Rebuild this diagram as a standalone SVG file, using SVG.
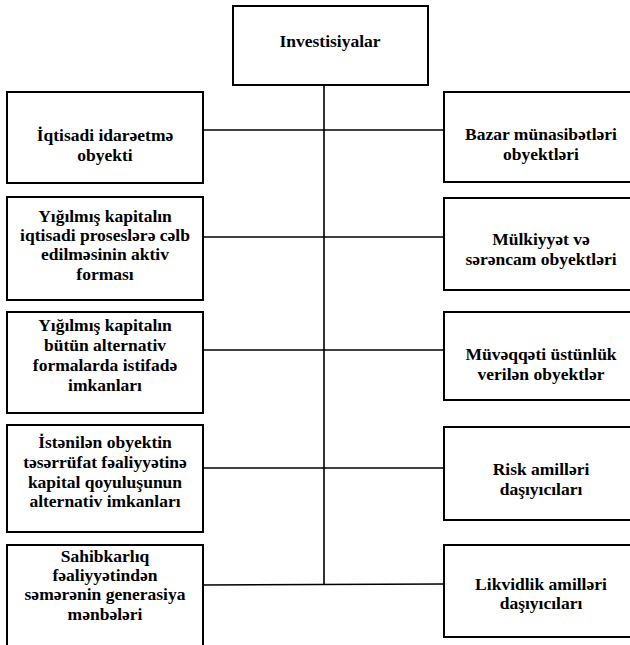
<svg xmlns="http://www.w3.org/2000/svg" width="630" height="645" viewBox="0 0 630 645">
<style>
.box{fill:#fff;stroke:#000;stroke-width:2}
.t{font-family:"Liberation Serif","DejaVu Serif",serif;font-size:17.5px;font-weight:bold;text-anchor:middle;fill:#000}
.c{stroke:#000;stroke-width:1.6;fill:none}
</style>
<rect width="630" height="645" fill="#fff"/>
<g id="connectors">
<line class="c" x1="324" y1="85" x2="324" y2="584"/>
<line class="c" x1="203" y1="130" x2="444" y2="130"/>
<line class="c" x1="203" y1="237" x2="444" y2="237"/>
<line class="c" x1="203" y1="350" x2="444" y2="350"/>
<line class="c" x1="203" y1="468" x2="444" y2="468"/>
<line class="c" x1="203" y1="585" x2="444" y2="584"/>
</g>
<g id="n0"><rect class="box" x="233" y="6" width="195" height="79"/><text class="t" x="330" y="47">Investisiyalar</text></g>
<g id="l1"><rect class="box" x="7" y="92" width="196" height="91"/>
<text class="t" x="105" y="141">İqtisadi idarəetmə</text><text class="t" x="105" y="161">obyekti</text></g>
<g id="l2"><rect class="box" x="7" y="197" width="196" height="103"/>
<text class="t" x="105" y="222">Yığılmış kapitalın</text><text class="t" x="105" y="241">iqtisadi proseslərə cəlb</text><text class="t" x="105" y="260">edilməsinin aktiv</text><text class="t" x="105" y="280">forması</text></g>
<g id="l3"><rect class="box" x="7" y="312" width="196" height="101"/>
<text class="t" x="105" y="331">Yığılmış kapitalın</text><text class="t" x="105" y="351">bütün alternativ</text><text class="t" x="105" y="371">formalarda istifadə</text><text class="t" x="105" y="391">imkanları</text></g>
<g id="l4"><rect class="box" x="7" y="425" width="196" height="107"/>
<text class="t" x="105" y="448">İstənilən obyektin</text><text class="t" x="105" y="468">təsərrüfat fəaliyyətinə</text><text class="t" x="105" y="488">kapital qoyuluşunun</text><text class="t" x="105" y="507">alternativ imkanları</text></g>
<g id="l5"><rect class="box" x="7" y="545" width="196" height="110"/>
<text class="t" x="105" y="562">Sahibkarlıq</text><text class="t" x="105" y="581">fəaliyyətindən</text><text class="t" x="105" y="600">səmərənin generasiya</text><text class="t" x="105" y="620">mənbələri</text></g>
<g id="r1"><rect class="box" x="444" y="92" width="196" height="90"/>
<text class="t" x="541" y="140">Bazar münasibətləri</text><text class="t" x="541" y="160">obyektləri</text></g>
<g id="r2"><rect class="box" x="444" y="198" width="196" height="92"/>
<text class="t" x="541" y="245">Mülkiyyət və</text><text class="t" x="541" y="265">sərəncam obyektləri</text></g>
<g id="r3"><rect class="box" x="444" y="312" width="196" height="88"/>
<text class="t" x="541" y="360">Müvəqqəti üstünlük</text><text class="t" x="541" y="380">verilən obyektlər</text></g>
<g id="r4"><rect class="box" x="444" y="427" width="196" height="93"/>
<text class="t" x="541" y="475">Risk amilləri</text><text class="t" x="541" y="495">daşıyıcıları</text></g>
<g id="r5"><rect class="box" x="444" y="545" width="196" height="92"/>
<text class="t" x="541" y="590">Likvidlik amilləri</text><text class="t" x="541" y="609">daşıyıcıları</text></g>
</svg>
